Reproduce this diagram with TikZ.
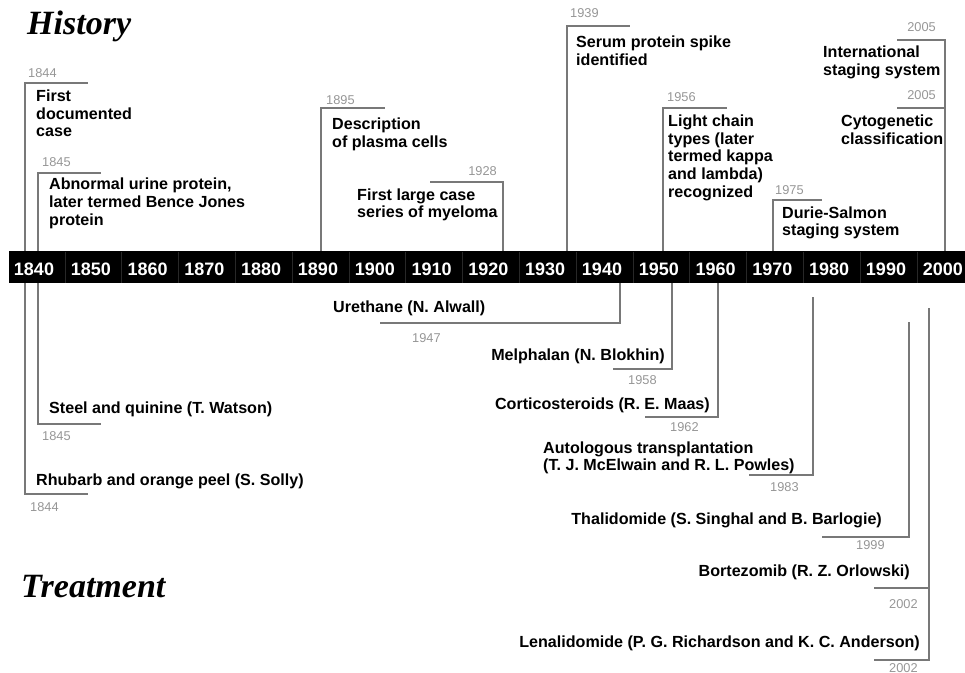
\documentclass[tikz,border=0pt]{standalone}
\usepackage{fontspec}
\setmainfont{Liberation Sans}
\newfontfamily\titlefont{Liberation Serif}
\newcommand{\mlines}[1]{\begin{tabular}[t]{@{}l@{}}#1\end{tabular}}
\definecolor{linecol}{RGB}{120,120,120}
\definecolor{yearcol}{RGB}{150,150,150}
\definecolor{sepcol}{RGB}{40,40,40}
\begin{document}
\begin{tikzpicture}[x=1bp,y=-1bp,
  conn/.style={draw=linecol, line width=1.8bp},
  lab/.style={font=\fontsize{16.1bp}{17.5bp}\selectfont\bfseries, inner sep=0, text=black},
  yr/.style={font=\fontsize{12.8bp}{14bp}\selectfont, inner sep=0, text=yearcol},
  decade/.style={font=\fontsize{18bp}{20bp}\selectfont\bfseries, inner sep=0, text=white, anchor=base},
  ttl/.style={font=\titlefont\fontsize{34bp}{36bp}\selectfont\bfseries\itshape, inner sep=0, anchor=base west}]
\useasboundingbox (0,0) rectangle (965,673);

% titles
\node[ttl] (hist) at (27,35) {History};
\node[ttl] (treat) at (21,597) {Treatment};

% connector end points (history, above the bar)
\coordinate (h1844s) at (25,251);  \coordinate (h1844e) at (88,83);
\coordinate (h1845s) at (38,251);  \coordinate (h1845e) at (101,173);
\coordinate (h1895s) at (321,251); \coordinate (h1895e) at (385,108);
\coordinate (h1928s) at (430,182); \coordinate (h1928e) at (503,251);
\coordinate (h1939s) at (567,251); \coordinate (h1939e) at (630,26);
\coordinate (h1956s) at (663,251); \coordinate (h1956e) at (727,108);
\coordinate (h1975s) at (773,251); \coordinate (h1975e) at (822,200);
\coordinate (h2005s) at (897,40);  \coordinate (h2005e) at (945,251);
\coordinate (h2005bs) at (897,108); \coordinate (h2005be) at (945,108);
% treatment, below the bar
\coordinate (t1844s) at (25,283);  \coordinate (t1844e) at (88,494);
\coordinate (t1845s) at (38,283);  \coordinate (t1845e) at (101,424);
\coordinate (t1947s) at (620,283); \coordinate (t1947e) at (380,323);
\coordinate (t1958s) at (672,283); \coordinate (t1958e) at (613,369);
\coordinate (t1962s) at (718,283); \coordinate (t1962e) at (645,417);
\coordinate (t1983s) at (813,297); \coordinate (t1983e) at (749,475);
\coordinate (t1999s) at (909,322); \coordinate (t1999e) at (822,537);
\coordinate (t2002s) at (929,308); \coordinate (t2002e) at (874,660);
\coordinate (t2002bs) at (929,588); \coordinate (t2002be) at (874,588);

\draw[conn] (h1844s) |- (h1844e);
\draw[conn] (h1845s) |- (h1845e);
\draw[conn] (h1895s) |- (h1895e);
\draw[conn] (h1928s) -| (h1928e);
\draw[conn] (h1939s) |- (h1939e);
\draw[conn] (h1956s) |- (h1956e);
\draw[conn] (h1975s) |- (h1975e);
\draw[conn] (h2005s) -| (h2005e);
\draw[conn] (h2005bs) -- (h2005be);
\draw[conn] (t1844s) |- (t1844e);
\draw[conn] (t1845s) |- (t1845e);
\draw[conn] (t1947s) |- (t1947e);
\draw[conn] (t1958s) |- (t1958e);
\draw[conn] (t1962s) |- (t1962e);
\draw[conn] (t1983s) |- (t1983e);
\draw[conn] (t1999s) |- (t1999e);
\draw[conn] (t2002s) |- (t2002e);
\draw[conn] (t2002bs) -- (t2002be);

% time bar
\node[fill=black, inner sep=0, minimum width=956bp, minimum height=32bp, anchor=north west] (bar) at (9,251) {};
\foreach \k in {0,...,15}
  \draw[sepcol, line width=1bp] ({65+\k*56.8},251.5) -- ({65+\k*56.8},282.5);
\foreach \yy [count=\i from 0] in {1840,1850,...,2000}
  \node[decade] (d\yy) at ({34+\i*56.8},275) {\yy};

% year labels
\node[yr, anchor=base west] (y1844a) at (28,78) {1844};
\node[yr, anchor=base west] (y1845a) at (42,166.5) {1845};
\node[yr, anchor=base west] (y1895) at (326,104.5) {1895};
\node[yr, anchor=base east] (y1928) at (497,175.5) {1928};
\node[yr, anchor=base west] (y1939) at (570,17.5) {1939};
\node[yr, anchor=base west] (y1956) at (667,101.5) {1956};
\node[yr, anchor=base west] (y1975) at (775,194.5) {1975};
\node[yr, anchor=base east] (y2005a) at (936,31.5) {2005};
\node[yr, anchor=base east] (y2005b) at (936,99.5) {2005};
\node[yr, anchor=base west] (y1947) at (412,342.5) {1947};
\node[yr, anchor=base west] (y1958) at (628,384.5) {1958};
\node[yr, anchor=base west] (y1962) at (670,431.5) {1962};
\node[yr, anchor=base west] (y1983) at (770,491.5) {1983};
\node[yr, anchor=base west] (y1999) at (856,549.5) {1999};
\node[yr, anchor=base west] (y2002a) at (889,608.5) {2002};
\node[yr, anchor=base west] (y2002b) at (889,672) {2002};
\node[yr, anchor=base west] (y1845b) at (42,440.5) {1845};
\node[yr, anchor=base west] (y1844b) at (30,511.5) {1844};

% history texts
\node[lab, anchor=base west] (e1844) at (36,102) {\mlines{First\\documented\\case}};
\node[lab, anchor=base west] (e1845) at (49,190) {\mlines{Abnormal urine protein,\\later termed Bence Jones\\protein}};
\node[lab, anchor=base west] (e1895) at (332,130) {\mlines{Description\\of plasma cells}};
\node[lab, anchor=base west] (e1928) at (357,200) {\mlines{First large case\\series of myeloma}};
\node[lab, anchor=base west] (e1939) at (576,48) {\mlines{Serum protein spike\\identified}};
\node[lab, anchor=base west] (e1956) at (668,127) {\mlines{Light chain\\types (later\\termed kappa\\and lambda)\\recognized}};
\node[lab, anchor=base west] (e1975) at (782,218) {\mlines{Durie-Salmon\\staging system}};
\node[lab, anchor=base west] (e2005a) at (823,58) {\mlines{International\\staging system}};
\node[lab, anchor=base west] (e2005b) at (841,127) {\mlines{Cytogenetic\\classification}};

% treatment texts
\node[lab, anchor=base west] (b1845) at (49,413) {Steel and quinine (T. Watson)};
\node[lab, anchor=base west] (b1844) at (36,485) {Rhubarb and orange peel (S. Solly)};
\node[lab, anchor=base west] (b1947) at (333,312) {Urethane (N. Alwall)};
\node[lab, anchor=base east] (b1958) at (665,360) {Melphalan (N. Blokhin)};
\node[lab, anchor=base east] (b1962) at (710,409) {Corticosteroids (R. E. Maas)};
\node[lab, anchor=base west] (b1983) at (543,453) {\mlines{Autologous transplantation\\(T. J. McElwain and R. L. Powles)}};
\node[lab, anchor=base east] (b1999) at (882,524) {Thalidomide (S. Singhal and B. Barlogie)};
\node[lab, anchor=base east] (b2002a) at (910,576) {Bortezomib (R. Z. Orlowski)};
\node[lab, anchor=base east] (b2002b) at (920,647) {Lenalidomide (P. G. Richardson and K. C. Anderson)};
\end{tikzpicture}
\end{document}
